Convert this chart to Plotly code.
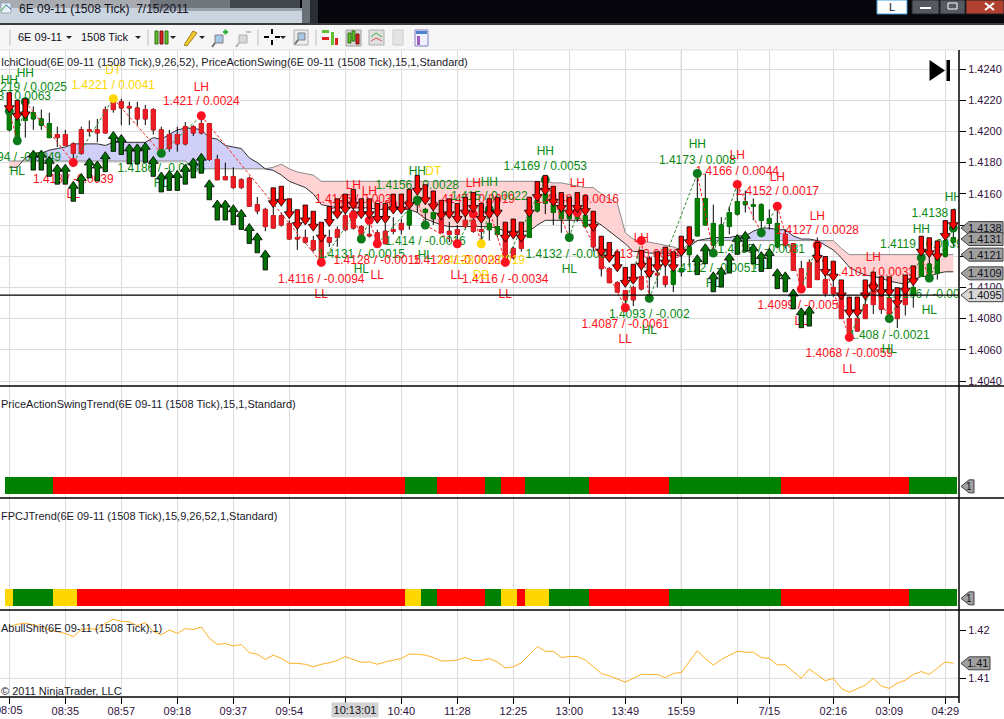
#!/usr/bin/env python3
"""NinjaTrader screenshot: 6E 09-11 (1508 Tick) with cloud, swings and trend panels"""

import plotly.graph_objects as go

# candles, one per bar, prices in units of 0.0001
opens = [14201,14196,14207,14208,14204,14196,14198,14198,14192,14201,
         14201,14201,14214,14220,14219,14216,14215,14214,14214,14201,
         14198,14198,14203,14203,14205,14205,14182,14171,14171,14169,
         14170,14153,14150,14146,14146,14141,14132,14132,14130,14131,
         14132,14137,14146,14149,14139,14134,14135,14136,14137,14141,
         14140,14153,14148,14144,14144,14136,14137,14143,14143,14137,
         14137,14134,14132,14125,14132,14132,14149,14154,14148,14144,
         14144,14144,14139,14139,14126,14112,14103,14098,14100,14107,
         14107,14109,14107,14102,14110,14121,14133,14140,14127,14127,
         14139,14147,14153,14152,14143,14141,14126,14134,14128,14112,
         14116,14129,14105,14100,14095,14080,14080,14089,14099,14099,
         14093,14088,14103,14095,14107,14106,14109,14120,14129]
highs = [14218,14210,14222,14216,14214,14212,14203,14201,14193,14203,
         14207,14208,14216,14221,14221,14219,14219,14217,14215,14203,
         14201,14203,14206,14204,14210,14205,14185,14180,14177,14170,
         14171,14158,14151,14152,14148,14143,14139,14137,14133,14133,
         14137,14139,14148,14153,14140,14147,14137,14141,14145,14144,
         14151,14157,14151,14152,14147,14142,14140,14148,14148,14141,
         14148,14152,14138,14126,14133,14148,14160,14169,14157,14153,
         14151,14150,14147,14149,14133,14113,14104,14098,14101,14124,
         14120,14115,14115,14120,14124,14139,14173,14173,14153,14145,
         14152,14166,14162,14157,14154,14150,14152,14137,14128,14117,
         14118,14132,14120,14105,14101,14081,14081,14094,14109,14107,
         14106,14099,14108,14113,14133,14121,14129,14143,14150]
lows = [14200,14194,14196,14201,14201,14196,14190,14191,14180,14185,
        14197,14193,14199,14212,14204,14204,14204,14204,14198,14187,
        14187,14187,14191,14197,14198,14181,14169,14169,14163,14163,
        14152,14147,14136,14138,14139,14131,14124,14128,14123,14116,
        14126,14126,14136,14137,14131,14132,14128,14128,14134,14134,
        14137,14148,14140,14140,14135,14129,14128,14137,14135,14128,
        14130,14132,14116,14118,14123,14132,14148,14147,14140,14135,
        14132,14142,14138,14123,14107,14103,14097,14087,14088,14098,
        14093,14100,14100,14097,14107,14113,14133,14140,14122,14127,
        14134,14146,14148,14143,14136,14137,14125,14125,14111,14099,
        14100,14105,14094,14094,14080,14068,14072,14080,14083,14083,
        14080,14074,14082,14087,14107,14105,14105,14119,14126]
closes = [14216,14208,14221,14212,14208,14205,14196,14191,14186,14186,
          14200,14199,14199,14214,14215,14215,14208,14208,14201,14189,
          14189,14192,14192,14199,14199,14182,14169,14169,14164,14164,
          14152,14149,14139,14138,14140,14131,14131,14129,14124,14117,
          14129,14132,14137,14138,14132,14133,14128,14128,14136,14137,
          14149,14156,14150,14148,14135,14134,14134,14139,14136,14136,
          14141,14139,14116,14119,14125,14147,14156,14160,14153,14150,
          14147,14146,14146,14126,14112,14103,14097,14092,14092,14099,
          14111,14108,14102,14111,14112,14126,14157,14157,14141,14140,
          14148,14155,14155,14153,14153,14144,14141,14127,14111,14099,
          14100,14105,14096,14096,14080,14070,14072,14080,14089,14086,
          14083,14080,14089,14100,14120,14115,14119,14130,14132]

# ichimoku cloud edges
span_a = [14177,14177,14183,14186,14186,14188,14189,14190,14192,14192,
          14192,14192,14191,14193,14193,14193,14193,14193,14196,14195,
          14198,14201,14202,14202,14201,14196,14195,14191,14190,14189,
          14183,14180,14176,14175,14172,14168,14166,14164,14160,14153,
          14152,14151,14151,14151,14151,14151,14150,14150,14150,14150,
          14150,14148,14144,14142,14140,14139,14139,14139,14139,14139,
          14139,14138,14136,14136,14136,14136,14140,14143,14143,14143,
          14143,14143,14143,14143,14140,14136,14132,14128,14123,14123,
          14122,14122,14122,14121,14120,14126,14130,14131,14132,14132,
          14132,14133,14133,14136,14138,14138,14137,14137,14133,14131,
          14131,14130,14127,14124,14119,14113,14110,14108,14107,14106,
          14104,14103,14102,14105,14107,14107,14109,14110,14110]
span_b = [14181] * 23 + [14176] * 10 + [14177,14179,14176,14174,14173,14172] + [14168] * 27 + [
          14168,14168,14167,14167,14166,14165,14164,14164,14160,14157,14154,
          14135,14131,14129,14129,14128,14127,14126,14124,14128] + [14130] * 18 + [14125] + [14121] * 14

# entry arrows: bar index and tip price
long_bars = list(range(3, 33)) + list(range(86, 101))
long_tips = [14188,14188,14184,14179,14179,14168,14173,14183,14181,14187,
             14200,14198,14192,14192,14193,14184,14174,14175,14175,14179,
             14183,14186,14169,14156,14156,14153,14150,14141,14135,14124,
             14121,14128,14110,14113,14122,14134,14136,14128,14123,14125,
             14112,14110,14099,14087,14088]
short_bars = [0, 1, 2] + list(range(33, 86)) + list(range(101, 119))
short_tips = [14212,14207,14208,
              14151,14152,14144,14137,14140,14136,14129,14139,
              14144,14147,14150,14144,14144,14141,14141,14147,14147,14150,
              14159,14153,14149,14143,14144,14141,14145,14148,14141,14144,
              14145,14129,14131,14129,14145,14155,14159,14152,14148,14145,
              14148,14146,14136,14120,14116,14110,14100,14102,14111,14106,
              14110,14113,14110,14120,14126,
              14116,14107,14104,14092,14081,14081,14092,14097,14094,14094,
              14087,14095,14101,14120,14119,14117,14130,14137]

# swing points joined by the zigzag
swing_bars = [0,1,2,8,13,19,24,39,43,44,45,46,51,52,56,58,59,60,62,67,70,71,77,79,80,
              86,88,91,94,96,99,101,105,108,110,114,115,118]
swing_prices = [14213,14194,14219,14180,14221,14186,14210,14116,14146,14131,14143,14128,
                14156,14140,14128,14147,14128,14150,14116,14169,14132,14148,14087,14130,14093,
                14173,14122,14166,14135,14152,14099,14127,14068,14101,14080,14119,14106,14138]
swing_kinds = ["HH","HL","HH","LL","DT","HL","LH","LL","LH","HL","LH","LL","HH","HL","LL","LH",
               "DB","HH","LL","HH","HL","LH","LL","LH","HL","HH","HL","LH","HL","LH","LL","LH",
               "LL","LH","HL","HH","HL","HH"]

# swing captions: bar, caption text, caption level, kind text, kind level
label_bars = [0,2,1,8,13,19,24,39,43,44,45,46,51,53,52,56,58,60,59,62,67,70,71,79,77,80,
              86,88,91,94,96,99,101,105,108,110,114,115,118]
label_kinds = ["HH","HH","HL","LL","DT","HL","LH","LL","LH","HL","LH","LL","HH","DT","HL","LL",
               "LH","HH","DB","LL","HH","HL","LH","LH","LL","HL","HH","HL","LH","HL","LH","LL",
               "LH","LL","LH","HL","HH","HL","HH"]
label_texts = ["1.4213 / 0.0063","1.4219 / 0.0025","1.4194 / -0.0049","1.418 / -0.0039",
               "1.4221 / 0.0041","1.4186 / -0.0035","1.421 / 0.0024","1.4116 / -0.0094",
               "1.4146 / 0.003","1.4131 / -0.0015","1.4143 / 0.0012","1.4128 / -0.0015",
               "1.4156 / 0.0028","","1.414 / -0.0016","1.4128 / -0.0028","1.4147 / 0.0019",
               "1.415 / 0.0022","1.4128 / -0.0019","1.4116 / -0.0034","1.4169 / 0.0053",
               "1.4132 / -0.0037","1.4148 / 0.0016","1.413 / 0.0043","1.4087 / -0.0061",
               "1.4093 / -0.002","1.4173 / 0.008","1.4122 / -0.0051","1.4166 / 0.0044",
               "1.4135 / -0.0031","1.4152 / 0.0017","1.4099 / -0.0054","1.4127 / 0.0028",
               "1.4068 / -0.0059","1.4101 / 0.0033","1.408 / -0.0021","1.4119 / 0.0039",
               "1.4106 / -0.0013","1.4138 / 0.0032"]
label_levels = [14222,14228,14183,14169,14229,14176,14219,14105,14156,14121,14152,14117,14165,
                14174,14129,14117,14156,14158,14117,14105,14177,14121,14156,14121,14076,14082,
                14181,14112,14174,14124,14161,14088,14136,14057,14109,14069,14127,14095,14147]
kind_levels = [14232,14237,14174,14159,14239,14166,14228,14095,14165,14111,14161,14107,14174,
               14174,14120,14107,14166,14167,14107,14095,14187,14111,14166,14131,14066,14072,
               14191,14102,14184,14114,14170,14078,14145,14047,14119,14060,14137,14085,14157]

# trend strips, one state per bar
price_trend = ["g"]*6 + ["r"]*44 + ["g"]*4 + ["r"]*6 + ["g"]*2 + ["r"]*3 + ["g"]*8 + ["r"]*10 + ["g"]*14 + ["r"]*16 + ["g"]*6
fpcj_trend = ["y"] + ["g"]*5 + ["y"]*3 + ["r"]*41 + ["y"]*2 + ["g"]*2 + ["r"]*6 + ["g"]*2 + ["y"]*2 + ["r"] + ["y"]*3 + ["g"]*5 + ["r"]*10 + ["g"]*14 + ["r"]*16 + ["g"]*6

# lower panel line
abullshit = [14207,14212,14214,14210,14207,14200,14197,14193,14186,14201,
             14203,14201,14214,14222,14218,14217,14209,14215,14197,14190,
             14200,14193,14203,14201,14206,14183,14170,14172,14167,14170,
             14153,14150,14139,14148,14141,14131,14131,14129,14124,14129,
             14132,14137,14145,14139,14133,14134,14129,14134,14137,14141,
             14150,14150,14148,14143,14136,14136,14138,14143,14137,14137,
             14141,14134,
             14121,14124,14132,14148,14166,14156,14156,14143,14145,14145,
             14138,14124,14110,14105,14099,14092,14100,14108,14108,14108,
             14101,14110,14112,14134,14157,14141,14127,14139,14148,14156,
             14154,14154,14143,14141,14128,14128,14114,14100,14119,14107,
             14095,14100,14079,14071,14078,14086,14100,14084,14079,14090,
             14096,14108,14114,14108,14121,14134,14131]

# axis labels
tick_bars = [0,7,14,21,28,35,42,49,56,63,70,77,84,91,95,103,110,117]
tick_labels = ["","08:35","08:57","09:18","09:37","09:54","","10:40","11:28",
               "12:25","13:00","13:49","15:59","","7/15","02:16","03:09","04:29"]
price_ticks = [1.404,1.406,1.408,1.410,1.412,1.414,1.416,1.418,1.420,1.422,1.424]
right_tags = [1.4138,1.4131,1.4121,1.4109]
last_price = 1.4095

W, H = 1004, 719
PLOT_R = 959
FONT = "Liberation Sans, Arial, sans-serif"
TRADE_GREEN = "#008000"
TRADE_RED = "#EE1C25"
KIND_COLORS = {"HH":"#0A8A12","HL":"#0A8A12","LH":"#FF1020","LL":"#FF1020","DT":"#FFD700","DB":"#FFD700"}
TREND_COLORS = {"g":"#008000","r":"#FF0000","y":"#FFD700"}
PX_PER_PRICE = 15600  # vertical scale of the price panel


def scaled(values):
    return [v / 10000 for v in values]


def xp(x):
    return x / W


def yp(y):
    return 1 - y / H


def band(top, bottom):
    return [yp(bottom), yp(top)]


def rect(x0, y0, x1, y1, color, line=None):
    return dict(type="rect", xref="paper", yref="paper", x0=xp(x0), x1=xp(x1), y0=yp(y0), y1=yp(y1),
                fillcolor=color, line=dict(color=line or color, width=1 if line else 0), layer="above")


def segment(x0, y0, x1, y1, color="black", width=1):
    return dict(type="line", xref="paper", yref="paper", x0=xp(x0), x1=xp(x1), y0=yp(y0), y1=yp(y1),
                line=dict(color=color, width=width), layer="above")


def poly(points, color, line=None):
    path = "M " + " L ".join(f"{xp(a):.5f},{yp(b):.5f}" for a, b in points) + " Z"
    return dict(type="path", xref="paper", yref="paper", path=path, fillcolor=color,
                line=dict(color=line or color, width=1 if line else 0), layer="above")


def note(x, y, text, size=12, color="#1a1a2a", anchor="left", **kw):
    return dict(xref="paper", yref="paper", x=xp(x), y=yp(y), text=text, showarrow=False, xanchor=anchor,
                yanchor="middle", font=dict(family=FONT, size=size, color=color), borderpad=0, **kw)


def price_tag(yref, value, right, fill="#A0A0A0"):
    return dict(type="path", xref="paper", yref=yref, xsizemode="pixel", ysizemode="pixel",
                xanchor=xp(961), yanchor=value, layer="above", fillcolor=fill,
                line=dict(color="#404040", width=1),
                path=f"M 0 0 L 8 6.5 L {right} 6.5 L {right} -6.5 L 8 -6.5 Z")


def tag_text(yref, x, value, text, size=11):
    return dict(xref="paper", yref=yref, x=xp(x), y=value, text=text, showarrow=False, xanchor="center",
                font=dict(family=FONT, size=size, color="#101020"))


def arrow_polygons(bars, tips, direction):
    """Block arrows around tip prices, offsets are in bars and price"""
    xs, ys = [], []
    unit = 1 / PX_PER_PRICE
    for bar, tip in zip(bars, tips):
        tail = tip - direction * 20 * unit
        neck = tip - direction * 7 * unit
        xs += [bar, bar + 0.62, bar + 0.28, bar + 0.28, bar - 0.28, bar - 0.28, bar - 0.62, bar, None]
        ys += [tip, neck, neck, tail, tail, neck, neck, tip, None]
    return xs, ys


bars = list(range(len(opens)))
o, h, l, c = scaled(opens), scaled(highs), scaled(lows), scaled(closes)
a, b = scaled(span_a), scaled(span_b)

fig = go.Figure()

# cloud goes on the base axis so the overlaid candles stay on top of it
start = 0
for i in range(1, len(bars) + 1):
    if i == len(bars) or (a[i] >= b[i]) != (a[start + 1 if start + 1 < len(bars) else start] >= b[start + 1 if start + 1 < len(bars) else start]):
        run = bars[start:min(i + 1, len(bars))]
        blue = sum(a[j] - b[j] for j in run) > 0
        fig.add_trace(go.Scatter(x=run + run[::-1], y=[a[j] for j in run] + [b[j] for j in run[::-1]],
                                 fill="toself", mode="none", fillcolor="#CFCFF7" if blue else "#FFD3D3",
                                 xaxis="x", yaxis="y", hoverinfo="skip"))
        start = i
fig.add_trace(go.Scatter(x=bars, y=b, mode="lines", line=dict(color="#8A8A8A", width=1), xaxis="x", yaxis="y", hoverinfo="skip"))
fig.add_trace(go.Scatter(x=bars, y=a, mode="lines", line=dict(color="#303030", width=1), xaxis="x", yaxis="y", hoverinfo="skip"))

# black wicks first, coloured bodies over them
fig.add_trace(go.Candlestick(x=bars, open=o, high=h, low=l, close=c, xaxis="x", yaxis="y2", whiskerwidth=0,
                             increasing=dict(line=dict(color="black", width=1), fillcolor="black"),
                             decreasing=dict(line=dict(color="black", width=1), fillcolor="black")))
body_top = [max(p, q) for p, q in zip(o, c)]
body_low = [min(p, q) for p, q in zip(o, c)]
fig.add_trace(go.Candlestick(x=bars, open=o, high=body_top, low=body_low, close=c, xaxis="x", yaxis="y2", whiskerwidth=0,
                             increasing=dict(line=dict(color=TRADE_GREEN, width=1), fillcolor=TRADE_GREEN),
                             decreasing=dict(line=dict(color=TRADE_RED, width=1), fillcolor=TRADE_RED)))

# captions
fig.add_trace(go.Scatter(x=label_bars, y=scaled(label_levels), text=label_texts, mode="text", xaxis="x", yaxis="y2",
                         textfont=dict(family=FONT, size=12, color=[KIND_COLORS[k] for k in label_kinds]), hoverinfo="skip"))
fig.add_trace(go.Scatter(x=label_bars, y=scaled(kind_levels), text=label_kinds, mode="text", xaxis="x", yaxis="y2",
                         textfont=dict(family=FONT, size=12, color=[KIND_COLORS[k] for k in label_kinds]), hoverinfo="skip"))

# zigzag legs
swings_y = scaled(swing_prices)
for sign, color in ((1, "#2E8B2E"), (-1, "#FF2020")):
    xs, ys = [], []
    for i in range(len(swing_bars) - 1):
        if (swings_y[i + 1] - swings_y[i]) * sign > 0:
            xs += [swing_bars[i], swing_bars[i + 1], None]
            ys += [swings_y[i], swings_y[i + 1], None]
    fig.add_trace(go.Scatter(x=xs, y=ys, mode="lines", connectgaps=False, xaxis="x", yaxis="y2", hoverinfo="skip",
                             line=dict(color=color, width=1, dash="3px,2px")))

# swing dots
fig.add_trace(go.Scatter(x=swing_bars, y=swings_y, mode="markers", xaxis="x", yaxis="y2", hoverinfo="skip",
                         marker=dict(size=9, color=[KIND_COLORS[k].replace("#0A8A12", "#0B7A1B") for k in swing_kinds])))

# arrows
xs, ys = arrow_polygons(long_bars, scaled(long_tips), 1)
fig.add_trace(go.Scatter(x=xs, y=ys, mode="lines", fill="toself", fillcolor="#007000", xaxis="x", yaxis="y2",
                         line=dict(color="black", width=0.8), hoverinfo="skip"))
xs, ys = arrow_polygons(short_bars, scaled(short_tips), -1)
fig.add_trace(go.Scatter(x=xs, y=ys, mode="lines", fill="toself", fillcolor="#FF0000", xaxis="x", yaxis="y2",
                         line=dict(color="black", width=0.8), hoverinfo="skip"))

# last price line
x_range = [-9.3 / 8, (PLOT_R - 9.3) / 8]
fig.add_trace(go.Scatter(x=x_range, y=[last_price, last_price], mode="lines", xaxis="x", yaxis="y2",
                         line=dict(color="black", width=1.2), hoverinfo="skip"))

# trend strips
for name, states in (("y3", price_trend), ("y4", fpcj_trend)):
    fig.add_trace(go.Bar(x=bars, y=[1] * len(states), width=1, marker=dict(color=[TREND_COLORS[s] for s in states], line=dict(width=0)),
                         xaxis="x", yaxis=name, hoverinfo="skip"))

# lower line
fig.add_trace(go.Scatter(x=x_range, y=[1.41, 1.41], mode="lines", line=dict(color="#DCDCDC", width=1), xaxis="x", yaxis="y5", hoverinfo="skip"))
fig.add_trace(go.Scatter(x=list(range(len(abullshit))), y=scaled(abullshit), mode="lines",
                         line=dict(color="#FFB020", width=1), xaxis="x", yaxis="y5", hoverinfo="skip"))

tick_font = dict(family=FONT, size=11, color="#301040")
price_range = [1.4240 - (386 - 69) / PX_PER_PRICE, 1.4240 + (69 - 50) / PX_PER_PRICE]

shapes = [
    # window chrome
    rect(0, 0, W, 23, "#06060C"),
    rect(0, 0, 150, 8, "#A8ACB0"), rect(150, 0, 230, 8, "#70767C"), rect(230, 0, 300, 8, "#40464C"),
    rect(150, 8, 302, 11, "#9AA2AC"),
    rect(0, 8, 150, 23, "#CBD5E0"), rect(150, 11, 302, 23, "#CBD5E0"), rect(302, 0, 310, 23, "#6A7078"), rect(310, 0, 318, 23, "#2A2E34"),
    rect(0, 23, W, 25, "#3A3A3A"),
    rect(0, 25, W, 50, "#F6F6F6"),
    rect(877, 0, 907, 14, "#FFFFFF", "#40A0E0"),
    rect(912, 0, 939, 14, "#555A62", "#222222"), rect(940, 0, 965, 14, "#555A62", "#222222"),
    rect(966, 0, W, 14, "#B04030", "#222222"),
    rect(920, 7, 931, 9, "#FFFFFF"), rect(948, 3, 957, 9, "#555A62", "#FFFFFF"),
    segment(985, 3, 994, 10, "#FFFFFF", 2), segment(994, 3, 985, 10, "#FFFFFF", 2),
    rect(1, 3, 11, 13, "#E8F0F8", "#9AA8B8"), segment(1, 11, 6, 5, "#2CA02C", 1), segment(6, 5, 11, 9, "#3060C0", 1),
]
# toolbar separators and small icons
for x in (10, 148, 258, 316):
    shapes.append(segment(x, 30, x, 46, "#C0C0C0"))
for x, y in ((69, 37), (138, 37), (173, 37), (202, 37), (283, 37)):
    shapes.append(poly([(x - 3, y - 1), (x + 3, y - 1), (x, y + 2)], "#222222"))
shapes += [
    rect(155, 31, 158, 44, "#60C030", "#307010"), rect(160, 31, 163, 44, "#E02020", "#701010"), rect(165, 31, 168, 44, "#60C030", "#307010"),
    poly([(184, 45), (193, 31), (197, 33), (187, 46)], "#F0C830", "#A08020"),
    rect(215, 35, 223, 43, "#A8C8E8", "#808080"), segment(215, 43, 212, 47, "#707070", 2), rect(223, 31, 228, 33, "#20B030"), rect(224.5, 29.5, 226.5, 34.5, "#20B030"),
    rect(239, 35, 247, 43, "#D8D8D8", "#B0B0B0"), segment(239, 43, 236, 47, "#B0B0B0", 2), rect(246, 31, 251, 33, "#C0C0C0"),
    rect(264, 36, 269, 38, "#000000"), rect(275, 36, 280, 38, "#000000"), rect(271, 29, 273, 34, "#000000"), rect(271, 40, 273, 45, "#000000"),
    rect(294, 30, 308, 45, "#EDEDED", "#B0B0B0"), rect(298, 33, 305, 40, "#A8C8E8", "#808080"), segment(298, 40, 295, 44, "#707070", 2),
    rect(322, 30, 329, 33, "#60C030"), rect(322, 37, 329, 40, "#E02020"), rect(331, 32, 334, 45, "#60C030"), rect(335, 38, 338, 45, "#E02020"),
    rect(346, 30, 361, 46, "#D8D8D8", "#A0A0A0"), rect(348, 33, 351, 43, "#60C030", "#307010"), rect(352, 31, 355, 41, "#60C030", "#307010"), rect(356, 34, 359, 44, "#E02020", "#701010"),
    rect(369, 30, 384, 45, "#E0E0E0", "#B0B0B0"), segment(371, 37, 376, 33, "#40B040"), segment(376, 33, 382, 37, "#40B040"), segment(371, 41, 376, 38, "#E05050"), segment(376, 38, 382, 41, "#E05050"),
    rect(393, 30, 403, 45, "#E4E4E4", "#CCCCCC"),
    rect(415, 30, 428, 46, "#F0F0FF", "#8080C0"), rect(416, 31, 427, 34, "#5080D0"), rect(417, 36, 420, 45, "#A060C0"),
]
# panel frames
shapes += [
    segment(0, 50, W, 50, "#E0E0E0"),
    segment(0, 386, W, 386, "black", 1.5), segment(0, 498, W, 498, "black", 1.5), segment(0, 610, W, 610, "black", 1.5),
    segment(0, 697, PLOT_R, 697, "black", 1.5), segment(PLOT_R, 50, PLOT_R, 703, "black", 1.5),
    dict(type="line", xref="x", yref="paper", x0=84, x1=84, y0=yp(697), y1=yp(50), line=dict(color="#B0B0B0", width=1), layer="below"),
    poly([(929.5, 60), (945, 70.5), (929.5, 81)], "black"), rect(946.5, 60, 950, 81, "black"),
]
# value tags at the right of each panel
for value in right_tags:
    shapes.append(price_tag("y2", value, 42))
shapes.append(price_tag("y2", last_price, 42, "#D8D8D8"))
shapes.append(price_tag("y3", 0.45, 13))
shapes.append(price_tag("y4", 0.45, 13))
shapes.append(price_tag("y5", 1.4131, 29))

annotations = [
    note(18, 9, "6E 09-11 (1508 Tick)  7/15/2011", 12, "#101020"),
    note(17, 37, "6E 09-11", 11, "#101020"), note(80, 37, "1508 Tick", 11, "#101020"),
    note(892, 7, "L", 11, "#101020", "center"),
    note(0, 62, "IchiCloud(6E 09-11 (1508 Tick),9,26,52), PriceActionSwing(6E 09-11 (1508 Tick),15,1,Standard)", 11),
    note(0, 404, "PriceActionSwingTrend(6E 09-11 (1508 Tick),15,1,Standard)", 11),
    note(0, 516, "FPCJTrend(6E 09-11 (1508 Tick),15,9,26,52,1,Standard)", 11),
    note(0, 628, "AbullShit(6E 09-11 (1508 Tick),1)", 11),
    note(0, 691, "\u00a9 2011 NinjaTrader, LLC", 11),
    note(355, 710, "10:13:01", 11, "#101020", "center", bgcolor="#D2D2D2", width=46, height=14),
    note(9.3, 710, "08:05", 11, "#301040", "center"),
]
for value in right_tags + [last_price]:
    annotations.append(tag_text("y2", 985, value, f"{value:.4f}"))
annotations.append(tag_text("y3", 969, 0.45, "1", 10))
annotations.append(tag_text("y4", 969, 0.45, "1", 10))
annotations.append(tag_text("y5", 977, 1.4131, "1.41"))

# 17 px per unit on the strip panels, zero sits 4 px above the panel floor
strip_range = [-4 / 17, 108 / 17]
y5_scale = 0.01 / 48.3

fig.update_layout(
    width=W, height=H,
    margin=dict(l=0, r=0, t=0, b=0),
    paper_bgcolor="white", plot_bgcolor="white",
    showlegend=False,
    bargap=0, boxgap=0.3,
    shapes=shapes, annotations=annotations,
    xaxis=dict(domain=[0, PLOT_R / W], range=x_range, anchor="y5", rangeslider=dict(visible=False),
               tickmode="array", tickvals=tick_bars, ticktext=tick_labels, ticks="outside", ticklen=6, tickcolor="black",
               ticklabelstandoff=-2, tickfont=tick_font, showgrid=True, gridcolor="#DCDCDC", gridwidth=1, zeroline=False, showline=False),
    yaxis=dict(domain=band(50, 386), range=price_range, side="right", anchor="x", tickmode="array", tickvals=price_ticks,
               tickformat=".4f", ticks="outside", ticklen=6, tickcolor="black", tickfont=tick_font,
               showgrid=True, gridcolor="#DCDCDC", zeroline=False, showline=False),
    yaxis2=dict(overlaying="y", range=price_range, side="right", anchor="x", showgrid=False, showticklabels=False, ticks="", zeroline=False),
    yaxis3=dict(domain=band(386, 498), range=strip_range, anchor="x", showgrid=False, showticklabels=False, ticks="", zeroline=False),
    yaxis4=dict(domain=band(498, 610), range=strip_range, anchor="x", showgrid=False, showticklabels=False, ticks="", zeroline=False),
    yaxis5=dict(domain=band(610, 697), range=[1.41 - 18.7 * y5_scale, 1.42 + 20 * y5_scale], side="right", anchor="x",
                tickmode="array", tickvals=[1.41, 1.42], tickformat=".2f", ticks="outside", ticklen=6, tickcolor="black",
                tickfont=tick_font, showgrid=False, zeroline=False),
)

fig.write_html("out.html", config=dict(displayModeBar=False),
               post_script="document.body.style.margin='0';document.body.style.overflow='hidden';")
